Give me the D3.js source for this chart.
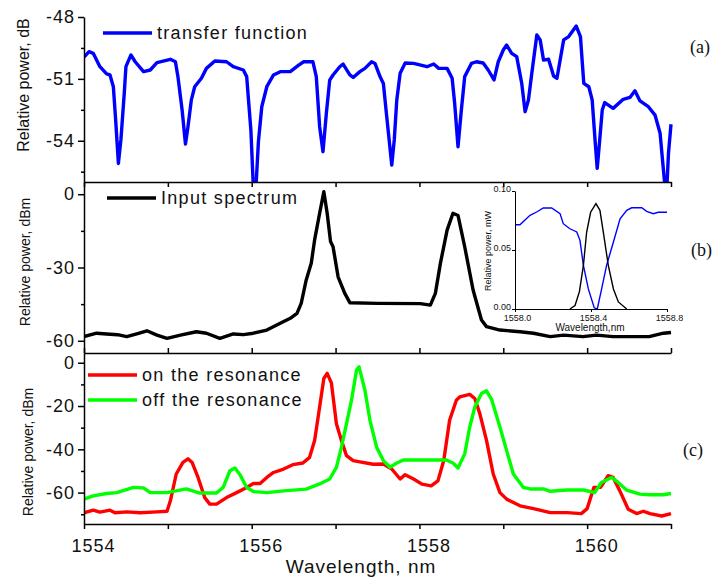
<!DOCTYPE html>
<html>
<head>
<meta charset="utf-8">
<script src="https://cdn.jsdelivr.net/npm/d3@7"></script>
<style>
  body { margin: 0; background: #fff; }
  svg { font-family: "Liberation Sans", Arial, sans-serif; }
  .axis path, .axis line { stroke: #000; stroke-width: 1.5; }
  .axis text { font-size: 18px; letter-spacing: 1px; fill: #111; }
  .inset path, .inset line { stroke: #000; stroke-width: 1; }
  .inset text { font-size: 9px; fill: #111; }
  .label { font-size: 15px; fill: #111; }
  .legend { font-size: 18px; letter-spacing: 1.3px; fill: #111; }
  .panel-tag { font-family: "Liberation Serif", "Times New Roman", serif; font-size: 18px; fill: #111; }
</style>
</head>
<body>
<div id="chart"></div>
<script>
// data: [wavelength nm, value]
const transferFunction = [
  [1554.00,-49.95],[1554.06,-49.68],[1554.11,-49.76],[1554.19,-50.41],[1554.27,-50.76],[1554.31,-50.81],
  [1554.35,-51.38],[1554.38,-53.15],[1554.41,-55.1],[1554.44,-53.96],[1554.48,-51.7],[1554.50,-50.41],
  [1554.56,-49.84],[1554.61,-50.17],[1554.71,-50.65],[1554.79,-50.57],[1554.87,-50.21],[1555.03,-50.05],
  [1555.09,-50.17],[1555.12,-50.89],[1555.17,-52.51],[1555.21,-54.16],[1555.24,-53.32],[1555.28,-52.02],
  [1555.32,-51.38],[1555.40,-50.97],[1555.46,-50.49],[1555.56,-50.13],[1555.70,-50.17],[1555.78,-50.41],
  [1555.90,-50.57],[1555.94,-50.89],[1555.99,-53.48],[1556.02,-56.3],[1556.05,-56.3],[1556.08,-54.04],
  [1556.12,-52.35],[1556.18,-51.38],[1556.26,-50.81],[1556.34,-50.65],[1556.46,-50.65],[1556.56,-50.33],
  [1556.62,-50.17],[1556.73,-50.17],[1556.77,-50.89],[1556.81,-53.32],[1556.85,-54.53],[1556.89,-52.67],
  [1556.93,-51.06],[1556.97,-50.81],[1557.05,-50.41],[1557.09,-50.28],[1557.17,-50.81],[1557.21,-50.93],
  [1557.29,-50.65],[1557.35,-50.49],[1557.43,-50.17],[1557.47,-50.25],[1557.53,-50.89],[1557.57,-51.22],
  [1557.61,-52.83],[1557.67,-55.18],[1557.70,-53.96],[1557.73,-52.02],[1557.77,-50.73],[1557.83,-50.23],
  [1557.93,-50.25],[1558.09,-50.41],[1558.17,-50.28],[1558.23,-50.49],[1558.33,-50.49],[1558.39,-50.97],
  [1558.42,-52.18],[1558.46,-54.29],[1558.50,-52.51],[1558.54,-50.89],[1558.62,-50.25],[1558.68,-50.17],
  [1558.76,-50.23],[1558.82,-50.57],[1558.89,-51.05],[1558.94,-50.17],[1559.00,-49.6],[1559.04,-49.36],
  [1559.10,-49.76],[1559.16,-49.92],[1559.22,-51.22],[1559.26,-52.59],[1559.30,-52.02],[1559.34,-50.73],
  [1559.40,-48.87],[1559.44,-49.11],[1559.48,-50.09],[1559.54,-50.05],[1559.60,-50.86],[1559.64,-50.97],
  [1559.72,-49.11],[1559.78,-48.95],[1559.87,-48.44],[1559.92,-48.95],[1559.96,-51.22],[1560.02,-51.38],
  [1560.06,-52.02],[1560.10,-54.29],[1560.12,-55.34],[1560.15,-53.96],[1560.18,-52.51],[1560.21,-52.15],
  [1560.31,-52.43],[1560.43,-51.99],[1560.51,-51.9],[1560.57,-51.58],[1560.63,-52.07],[1560.73,-52.35],
  [1560.81,-52.76],[1560.87,-53.64],[1560.91,-55.42],[1560.93,-56.3],[1560.95,-56.3],[1560.97,-54.6],
  [1561.00,-53.2]
];

const inputSpectrum = [
  [1554.00,-58.3],[1554.15,-56.9],[1554.27,-57.2],[1554.40,-57.5],[1554.51,-58.3],[1554.65,-57.0],
  [1554.75,-55.9],[1554.87,-57.7],[1554.99,-59.0],[1555.15,-57.7],[1555.34,-56.3],[1555.46,-56.9],
  [1555.62,-59.0],[1555.78,-57.2],[1555.90,-57.5],[1556.02,-56.9],[1556.18,-55.6],[1556.34,-52.8],
  [1556.46,-50.8],[1556.54,-48.8],[1556.59,-44.7],[1556.65,-35.1],[1556.71,-28.3],[1556.75,-18.7],
  [1556.81,-7.8],[1556.86,1.0],[1556.90,-7.8],[1556.94,-19.4],[1556.97,-21.5],[1557.03,-33.8],
  [1557.11,-40.6],[1557.17,-44.4],[1557.50,-44.7],[1558.01,-44.8],[1558.13,-45.4],[1558.19,-40.6],
  [1558.25,-28.3],[1558.33,-14.7],[1558.40,-7.8],[1558.46,-8.7],[1558.54,-21.5],[1558.64,-39.2],
  [1558.74,-51.5],[1558.80,-54.2],[1558.96,-55.6],[1559.20,-56.3],[1559.36,-56.9],[1559.56,-58.3],
  [1559.72,-57.7],[1559.95,-58.3],[1560.11,-57.7],[1560.31,-58.3],[1560.55,-58.3],[1560.74,-58.3],
  [1560.91,-56.9],[1561.00,-56.6]
];

const onResonance = [
  [1554.00,-69.3],[1554.11,-68.1],[1554.19,-69.0],[1554.31,-68.1],[1554.37,-69.3],[1554.51,-68.9],
  [1554.67,-69.3],[1554.87,-68.9],[1554.99,-68.6],[1555.03,-63.8],[1555.10,-51.4],[1555.18,-46.0],
  [1555.24,-44.4],[1555.29,-46.1],[1555.36,-53.0],[1555.44,-62.3],[1555.50,-65.3],[1555.58,-65.3],
  [1555.70,-62.3],[1555.82,-60.0],[1555.94,-57.6],[1556.02,-55.8],[1556.10,-55.8],[1556.18,-53.0],
  [1556.26,-50.7],[1556.38,-49.1],[1556.49,-47.1],[1556.61,-46.3],[1556.69,-43.7],[1556.75,-35.9],
  [1556.81,-20.5],[1556.86,-7.3],[1556.90,-4.9],[1556.95,-9.3],[1557.01,-28.2],[1557.07,-35.9],
  [1557.13,-42.9],[1557.21,-45.2],[1557.29,-45.8],[1557.45,-46.9],[1557.57,-46.8],[1557.67,-49.1],
  [1557.77,-53.7],[1557.83,-51.7],[1557.93,-53.7],[1558.03,-56.1],[1558.14,-56.9],[1558.22,-54.6],
  [1558.29,-45.2],[1558.36,-26.6],[1558.44,-17.3],[1558.48,-15.8],[1558.60,-14.6],[1558.66,-16.5],
  [1558.72,-23.5],[1558.80,-35.9],[1558.88,-51.4],[1558.96,-60.0],[1559.04,-63.0],[1559.20,-66.1],
  [1559.36,-67.4],[1559.56,-69.25],[1559.76,-69.25],[1559.93,-69.7],[1560.00,-67.4],[1560.08,-57.6],
  [1560.16,-57.6],[1560.25,-52.2],[1560.31,-53.0],[1560.39,-59.2],[1560.49,-67.7],[1560.59,-69.7],
  [1560.67,-68.6],[1560.75,-69.7],[1560.89,-70.8],[1561.00,-69.7]
];

const offResonance = [
  [1554.00,-63.0],[1554.11,-61.5],[1554.27,-60.4],[1554.39,-60.0],[1554.59,-57.6],[1554.71,-57.8],
  [1554.79,-60.0],[1554.99,-60.0],[1555.22,-58.3],[1555.38,-60.2],[1555.58,-60.2],[1555.66,-57.6],
  [1555.74,-49.9],[1555.80,-48.6],[1555.86,-51.7],[1555.94,-57.6],[1556.02,-59.5],[1556.18,-60.0],
  [1556.38,-59.2],[1556.65,-58.4],[1556.81,-56.0],[1556.93,-53.7],[1557.01,-48.3],[1557.07,-39.0],
  [1557.13,-28.2],[1557.19,-17.3],[1557.25,-3.4],[1557.28,-1.9],[1557.35,-12.7],[1557.41,-26.6],
  [1557.49,-39.1],[1557.57,-45.2],[1557.65,-48.3],[1557.73,-46.3],[1557.81,-44.9],[1558.32,-44.9],
  [1558.40,-46.3],[1558.46,-48.6],[1558.54,-42.1],[1558.60,-29.7],[1558.66,-20.5],[1558.74,-14.2],
  [1558.80,-13.0],[1558.86,-16.9],[1558.96,-29.7],[1559.04,-40.6],[1559.12,-51.4],[1559.24,-57.6],
  [1559.32,-58.3],[1559.48,-58.3],[1559.56,-59.4],[1559.76,-58.8],[1559.96,-58.8],[1560.09,-60.0],
  [1560.17,-55.3],[1560.29,-53.0],[1560.37,-55.3],[1560.47,-58.8],[1560.63,-60.7],[1560.75,-61.0],
  [1560.91,-61.0],[1561.00,-60.4]
];

// inset, linear units (mW)
const insetTransfer = [
  [1558.000,0.0714],[1558.026,0.0714],[1558.079,0.0794],[1558.114,0.0822],[1558.149,0.0856],
  [1558.193,0.0856],[1558.237,0.0808],[1558.254,0.0723],[1558.289,0.0680],[1558.325,0.0653],
  [1558.342,0.0582],[1558.360,0.0370],[1558.386,0.0170],[1558.417,0.0010],[1558.433,0.0000],
  [1558.456,0.0170],[1558.482,0.0370],[1558.518,0.0568],[1558.553,0.0765],[1558.588,0.0836],
  [1558.614,0.0858],[1558.667,0.0858],[1558.693,0.0828],[1558.728,0.0808],[1558.754,0.0820],
  [1558.800,0.0820]
];
const insetInput = [
  [1558.289,0],[1558.316,0.003],[1558.339,0.0147],[1558.360,0.037],[1558.377,0.065],[1558.398,0.082],
  [1558.426,0.0893],[1558.447,0.0836],[1558.465,0.065],[1558.491,0.037],[1558.518,0.017],
  [1558.544,0.006],[1558.588,0]
];

// ticks
const xMajorTicks = [1554, 1556, 1558, 1560];
const xAllTicks = [1554, 1555, 1556, 1557, 1558, 1559, 1560, 1561];
const aTicks = [-48, -51, -54], aMinor = [-49.5, -52.5, -55.5];
const bTicks = [0, -30, -60], bMinor = [-15, -45];
const cTicks = [0, -20, -40, -60], cMinor = [-10, -30, -50, -70];
const insetYTicks = [0, 0.05, 0.10];
const insetXTicks = [1558.0, 1558.4, 1558.8];

const svgWidth = 714, svgHeight = 580;
const left = 84, right = 671;

const svg = d3.select("#chart").append("svg")
    .attr("width", svgWidth)
    .attr("height", svgHeight);

const x = d3.scaleLinear().domain([1554, 1561]).range([left, right]);

// panel vertical extents
const yA = d3.scaleLinear().domain([-56, -48]).range([182, 17]);
const yB = d3.scaleLinear().domain([-65, 5]).range([353, 182]);
const yC = d3.scaleLinear().domain([-74.5, 4.5]).range([524, 353]);

function clip(id, y0, y1) {
    svg.append("clipPath").attr("id", id)
        .append("rect").attr("x", left).attr("y", y0).attr("width", right - left + 2).attr("height", y1 - y0);
}
clip("clipA", 0, 182);
clip("clipB", 182, 353);
clip("clipC", 353, 524);

function drawLine(data, yScale, color, clipId, width) {
    svg.append("path")
        .datum(data)
        .attr("fill", "none")
        .attr("stroke", color)
        .attr("stroke-width", width)
        .attr("stroke-linejoin", "round")
        .attr("clip-path", `url(#${clipId})`)
        .attr("d", d3.line().x(d => x(d[0])).y(d => yScale(d[1])));
}

drawLine(transferFunction, yA, "#0000ff", "clipA", 3.4);
drawLine(inputSpectrum, yB, "#000000", "clipB", 3.4);
drawLine(onResonance, yC, "#ff0000", "clipC", 3.4);
drawLine(offResonance, yC, "#00ff00", "clipC", 3.4);

// y axes
function yAxis(scale, major, minor, fmt) {
    svg.append("g").attr("class", "axis")
        .attr("transform", `translate(${left},0)`)
        .call(d3.axisLeft(scale).tickValues(major).tickSize(6).tickSizeOuter(0).tickPadding(3).tickFormat(fmt));
    svg.append("g").attr("class", "axis")
        .attr("transform", `translate(${left},0)`)
        .call(d3.axisLeft(scale).tickValues(minor).tickSize(3).tickSizeOuter(0).tickFormat(""))
        .select(".domain").remove();
}
yAxis(yA, aTicks, aMinor, d3.format("d"));
yAxis(yB, bTicks, bMinor, d3.format("d"));
yAxis(yC, cTicks, cMinor, d3.format("d"));
svg.selectAll(".axis .tick text").text(function () { return d3.select(this).text().replace("−", "-"); });

// horizontal frame lines
svg.append("g").attr("class", "axis")
    .attr("transform", "translate(0,182)")
    .call(d3.axisBottom(x).tickValues(xAllTicks).tickSize(5).tickSizeOuter(0).tickFormat(""));
svg.append("g").attr("class", "axis")
    .attr("transform", "translate(0,353)")
    .call(d3.axisTop(x).tickValues(xAllTicks).tickSize(5).tickSizeOuter(0).tickFormat(""));
const xAxisBottom = svg.append("g").attr("class", "axis")
    .attr("transform", "translate(0,524)")
    .call(d3.axisBottom(x).tickValues(xAllTicks).tickSize(5).tickSizeOuter(0)
        .tickFormat(d => xMajorTicks.includes(d) ? d3.format("d")(d) : ""));
xAxisBottom.selectAll(".tick text").attr("dx", 9).attr("dy", "1.1em");

// axis titles
svg.append("text")
    .attr("x", 361).attr("y", 573)
    .attr("text-anchor", "middle")
    .style("font-size", "19px").style("letter-spacing", "1px").attr("fill", "#111")
    .text("Wavelength, nm");

function yTitle(txt, cx, cy, size) {
    svg.append("text")
        .attr("class", "label")
        .attr("transform", `translate(${cx},${cy}) rotate(-90)`)
        .attr("text-anchor", "middle")
        .attr("dy", "0.35em")
        .style("font-size", size + "px")
        .text(txt);
}
yTitle("Relative power, dB", 23, 85, 16);
yTitle("Relative power, dBm", 25, 262, 14);
yTitle("Relative power, dBm", 28, 452, 14);

// legends
function legendItem(color, x0, y0, txt) {
    svg.append("line")
        .attr("x1", x0).attr("x2", x0 + 49).attr("y1", y0).attr("y2", y0)
        .attr("stroke", color).attr("stroke-width", 3.4);
    svg.append("text")
        .attr("class", "legend")
        .attr("x", x0 + 54).attr("y", y0 + 6)
        .text(txt);
}
legendItem("#0000ff", 103, 33, "transfer function");
legendItem("#000000", 107, 198, "Input spectrum");
legendItem("#ff0000", 88, 375, "on the resonance");
legendItem("#00ff00", 88, 400, "off the resonance");

// panel tags
svg.append("text").attr("class", "panel-tag").attr("x", 690).attr("y", 53).text("(a)");
svg.append("text").attr("class", "panel-tag").attr("x", 691).attr("y", 256).text("(b)");
svg.append("text").attr("class", "panel-tag").attr("x", 683).attr("y", 456).text("(c)");

// inset
const xi = d3.scaleLinear().domain([1558.0, 1558.8]).range([515, 667]);
const yi = d3.scaleLinear().domain([0, 0.10]).range([309, 191]);

const insetLine = d3.line().x(d => xi(d[0])).y(d => yi(d[1]));
svg.append("path").datum(insetTransfer)
    .attr("fill", "none").attr("stroke", "#0000ff").attr("stroke-width", 1.4)
    .attr("d", insetLine);
svg.append("path").datum(insetInput)
    .attr("fill", "none").attr("stroke", "#000").attr("stroke-width", 1.4)
    .attr("d", insetLine);

const insetY = svg.append("g").attr("class", "inset")
    .attr("transform", "translate(515,0)")
    .call(d3.axisLeft(yi).tickValues(insetYTicks).tickSize(3).tickSizeOuter(0).tickPadding(1)
        .tickFormat(d3.format(".2f")));
insetY.selectAll(".tick text").attr("dy", "0.1em");
const insetX = svg.append("g").attr("class", "inset")
    .attr("transform", "translate(0,309)")
    .call(d3.axisBottom(xi).tickValues(insetXTicks).tickSize(3).tickSizeOuter(0).tickPadding(3)
        .tickFormat(d3.format(".1f")));
insetX.selectAll(".tick text").attr("dx", 2);

svg.append("text")
    .attr("x", 590).attr("y", 331)
    .attr("text-anchor", "middle")
    .style("font-size", "10px").attr("fill", "#111")
    .text("Wavelength,nm");
svg.append("text")
    .attr("transform", "translate(488,251) rotate(-90)")
    .attr("text-anchor", "middle")
    .attr("dy", "0.35em")
    .style("font-size", "9px").attr("fill", "#111")
    .text("Relative power, mW");
</script>
</body>
</html>
